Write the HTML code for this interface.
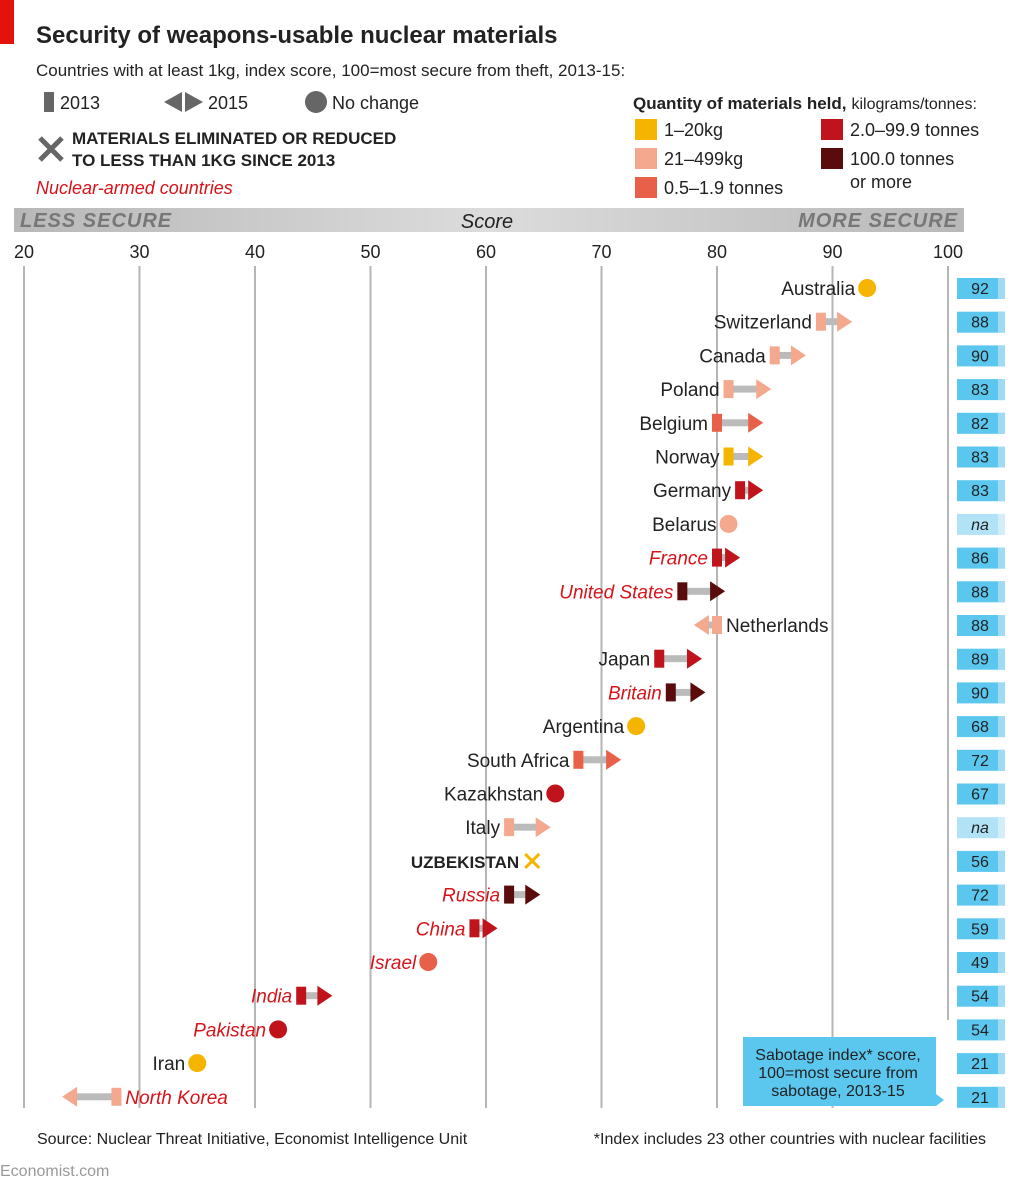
<!DOCTYPE html>
<html><head><meta charset="utf-8">
<style>
body{margin:0;width:1024px;height:1187px;background:#fff;font-family:"Liberation Sans",sans-serif;overflow:hidden;position:relative}
.t{position:absolute;white-space:nowrap}
</style></head><body>
<div style="position:absolute;left:0;top:0;width:14px;height:44px;background:#e3120b"></div>
<div class="t" style="left:36px;top:22px;font-size:24px;font-weight:bold;color:#222">Security of weapons-usable nuclear materials</div>
<div class="t" style="left:36px;top:61px;font-size:17px;color:#222">Countries with at least 1kg, index score, 100=most secure from theft, 2013-15:</div>
<svg id="svg" width="1024" height="1187" style="position:absolute;left:0;top:0" font-family="Liberation Sans, sans-serif"></svg>
<script>
const countries=["Australia","Switzerland","Canada","Poland","Belgium","Norway","Germany","Belarus","France","United States","Netherlands","Japan","Britain","Argentina","South Africa","Kazakhstan","Italy","UZBEKISTAN","Russia","China","Israel","India","Pakistan","Iran","North Korea"];
const score2013=[93,89,85,81,80,81,82,81,80,77,80,75,76,73,68,66,62,64,62,59,55,44,42,35,28];
const score2015=[93,91.7,87.7,84.7,84,84,84,81,82,80.7,78,78.7,79,73,71.7,66,65.6,64,64.7,61,55,46.7,42,35,23.3];
const quantity=[0,1,1,1,2,0,3,1,3,4,1,3,4,0,2,3,1,0,4,3,2,3,3,0,1];
const nuclear=[0,0,0,0,0,0,0,0,1,1,0,0,1,0,0,0,0,0,1,1,1,1,1,0,1];
const eliminated=[0,0,0,0,0,0,0,0,0,0,0,0,0,0,0,0,0,1,0,0,0,0,0,0,0];
const sabotage=["92","88","90","83","82","83","83","na","86","88","88","89","90","68","72","67","na","56","72","59","49","54","54","21","21"];
const ticks=[20,30,40,50,60,70,80,90,100];
const qColors=["#f5b400","#f4a88e","#e9604a","#c0141c","#5a0c0c"];
const qLabels=["1–20kg","21–499kg","0.5–1.9 tonnes","2.0–99.9 tonnes","100.0 tonnes"];
const svg=document.getElementById('svg');
const NS='http://www.w3.org/2000/svg';
const x=v=>24+(v-20)*11.55;
const y=i=>288+i*33.7;
function mk(tag,attrs,parent){const e=document.createElementNS(NS,tag);for(const k in attrs)e.setAttribute(k,attrs[k]);(parent||svg).appendChild(e);return e;}
function txt(s,attrs){const e=mk('text',attrs);e.textContent=s;return e;}
const defs=mk('defs',{});
const g=mk('linearGradient',{id:'band',x1:0,x2:1,y1:0,y2:0},defs);
mk('stop',{offset:0,'stop-color':'#b8b8b8'},g);mk('stop',{offset:0.5,'stop-color':'#dcdcdc'},g);mk('stop',{offset:1,'stop-color':'#b8b8b8'},g);
let e=mk('rect',{x:14,y:208,width:950,height:24,fill:'url(#band)'});

e=txt('LESS SECURE',{x:20,y:227,'font-size':20,'font-style':'italic','font-weight':'bold',fill:'#777','letter-spacing':1});

e=txt('MORE SECURE',{x:958,y:227,'font-size':20,'font-style':'italic','font-weight':'bold',fill:'#777','text-anchor':'end','letter-spacing':1});

e=txt('Score',{x:487,y:228,'font-size':20,'font-style':'italic',fill:'#222','text-anchor':'middle'});

ticks.forEach(t=>{
  e=mk('line',{x1:x(t),x2:x(t),y1:266,y2:t===100?1020:1108,stroke:'#b5b5b5','stroke-width':2});
  
  e=txt(String(t),{x:x(t),y:258,'font-size':18,'text-anchor':'middle',fill:'#222'});
  
});
countries.forEach((c,i)=>{
  const yy=y(i),a=score2013[i],b=score2015[i],col=qColors[quantity[i]];
  const G=mk('g',{});
  
  
  let labelX,anchor='end';
  if(eliminated[i]){
    mk('path',{d:`M${x(a)-7} ${yy-7}L${x(a)+7} ${yy+7}M${x(a)+7} ${yy-7}L${x(a)-7} ${yy+7}`,stroke:col,'stroke-width':3},G);
    labelX=x(a)-13;
  } else if(a===b){
    mk('circle',{cx:x(a),cy:yy,r:9,fill:col},G);
    labelX=x(a)-12;
  } else if(b>a){
    const xa=x(a),xb=x(b);
    mk('rect',{x:xa,y:yy-3.5,width:Math.max(0,xb-14-xa),height:7,fill:'#bbb'},G);
    mk('path',{d:`M${xb-15} ${yy-10}L${xb} ${yy}L${xb-15} ${yy+10}Z`,fill:col},G);
    mk('rect',{x:xa-5,y:yy-9,width:10,height:18,fill:col},G);
    labelX=xa-9;
  } else {
    const xa=x(a),xb=x(b);
    mk('rect',{x:xb+14,y:yy-3.5,width:xa-xb-14,height:7,fill:'#bbb'},G);
    mk('path',{d:`M${xb+15} ${yy-10}L${xb} ${yy}L${xb+15} ${yy+10}Z`,fill:col},G);
    mk('rect',{x:xa-5,y:yy-9,width:10,height:18,fill:col},G);
    labelX=xa+9;anchor='start';
  }
  e=txt(c,{x:labelX,y:yy+7,'font-size':19,'text-anchor':anchor,fill:nuclear[i]?'#d7141a':'#222','font-style':nuclear[i]?'italic':'normal','font-weight':eliminated[i]?'bold':'normal'});
  if(eliminated[i])e.setAttribute('font-size',17);
  
  const na=sabotage[i]==='na';
  e=mk('rect',{x:957,y:yy-10,width:48,height:21,fill:na?'#b2e2f5':'#5bc6ee'});
  
  mk('rect',{x:998,y:yy-10,width:7,height:21,fill:na?'#d4eef9':'#9fdbf4'});
  e=txt(sabotage[i],{x:980,y:yy+6,'font-size':16,'text-anchor':'middle',fill:'#222','font-style':na?'italic':'normal'});
  
});
e=mk('path',{d:'M743 1037H936V1094L944 1100L936 1106H743Z',fill:'#5bc6ee'});

['Sabotage index* score,','100=most secure from','sabotage, 2013-15'].forEach((s,k)=>txt(s,{x:838,y:1060+k*18,'font-size':16,'text-anchor':'middle',fill:'#222'}));
mk('rect',{x:44,y:92,width:10,height:20,fill:'#666'});
txt('2013',{x:60,y:109,'font-size':18,fill:'#222'});
mk('path',{d:'M182 92L164 102L182 112Z',fill:'#666'});mk('path',{d:'M185 92L203 102L185 112Z',fill:'#666'});
txt('2015',{x:208,y:109,'font-size':18,fill:'#222'});
mk('circle',{cx:316,cy:102,r:11,fill:'#666'});
txt('No change',{x:332,y:109,'font-size':18,fill:'#222'});
mk('path',{d:'M40 138L62 160M62 138L40 160',stroke:'#666','stroke-width':5});
txt('MATERIALS ELIMINATED OR REDUCED',{x:72,y:144,'font-size':17,'font-weight':'bold',fill:'#222'});
txt('TO LESS THAN 1KG SINCE 2013',{x:72,y:166,'font-size':17,'font-weight':'bold',fill:'#222'});
txt('Nuclear-armed countries',{x:36,y:194,'font-size':18,'font-style':'italic',fill:'#d7141a'});
const qt=txt('Quantity of materials held,',{x:633,y:109,'font-size':17,'font-weight':'bold',fill:'#222'});
const kg=txt('kilograms/tonnes:',{x:850,y:109,'font-size':16,fill:'#222'});
try{const bb=qt.getBBox();kg.setAttribute('x',bb.x+bb.width+5);}catch(err){}
const lp=[[635,119],[635,148],[635,177],[821,119],[821,148]];
qLabels.forEach((l,k)=>{
  e=mk('rect',{x:lp[k][0],y:lp[k][1],width:22,height:21,fill:qColors[k]});
  
  txt(l,{x:lp[k][0]+29,y:lp[k][1]+17,'font-size':18,fill:'#222'});
});
txt('or more',{x:850,y:188,'font-size':18,fill:'#222'});
txt('Source: Nuclear Threat Initiative, Economist Intelligence Unit',{x:37,y:1144,'font-size':16,fill:'#222'});
txt('*Index includes 23 other countries with nuclear facilities',{x:986,y:1144,'font-size':16,fill:'#222','text-anchor':'end'});
txt('Economist.com',{x:0,y:1176,'font-size':16,fill:'#999'});
</script>
</body></html>
